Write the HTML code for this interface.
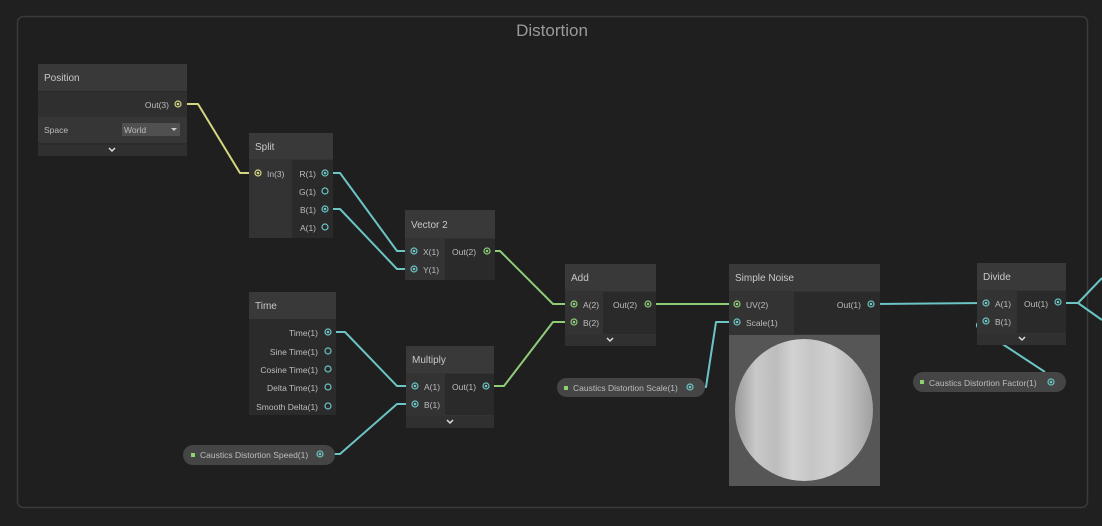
<!DOCTYPE html>
<html><head><meta charset="utf-8"><style>
html,body{margin:0;padding:0;background:#202020;}
svg{display:block;font-family:"Liberation Sans",sans-serif;}
.t{fill:#c8c8c8;font-size:10px;}
.s{fill:#bdbdbd;font-size:8.5px;}
</style></head><body>
<svg width="1102" height="526" viewBox="0 0 1102 526">
<rect width="1102" height="526" fill="#202020"/>
<rect x="17.5" y="16.5" width="1070" height="491" rx="6" fill="#1f1f1f" stroke="#3a3a3a" stroke-width="1.5"/>
<text x="552" y="36" text-anchor="middle" fill="#9a9a9a" font-size="17">Distortion</text>

<!-- wires -->
<g fill="none" stroke-width="2" stroke-linejoin="round">
<path d="M182 104 H198 L240 173 H258" stroke="#d6d680"/>
<path d="M325 173 H340 L397 251 H414" stroke="#6cc4c4"/>
<path d="M325 209 H340 L397 269 H414" stroke="#6cc4c4"/>
<path d="M487 251 H500 L553 304 H574" stroke="#8fcc78"/>
<path d="M487 386 H504 L553 322 H574" stroke="#8fcc78"/>
<path d="M648 304 H737" stroke="#8fcc78"/>
<path d="M328 332 H345 L397 386 H414" stroke="#6cc4c4"/>
<path d="M321 454 H340 L397 404 H414" stroke="#6cc4c4"/>
<path d="M691 387 H706 L716 322 H737" stroke="#6cc4c4"/>
<path d="M872 304 L985 303" stroke="#6cc4c4"/>
<path d="M1058 303 H1078 L1102 278" stroke="#6cc4c4"/>
<path d="M1078 303 L1102 320" stroke="#6cc4c4"/>
<path d="M1045 372 L978 328 Q974 322 984 321" stroke="#6cc4c4"/>
</g>

<!-- Position -->
<rect x="38" y="64" width="149" height="92" fill="#2b2b2b"/>
<rect x="38" y="64" width="149" height="27" fill="#393939"/>
<text class="t" x="44" y="81">Position</text>
<rect x="38" y="92" width="149" height="25" fill="#2f2f2f"/>
<text class="s" x="169" y="108" text-anchor="end">Out(3)</text>
<rect x="38" y="117" width="149" height="26" fill="#363636"/>
<text class="s" x="44" y="133">Space</text>
<rect x="122" y="123" width="58" height="13" fill="#505050"/>
<text class="s" x="124" y="133" fill="#ddd">World</text>
<path d="M171 128 l3 3 l3 -3z" fill="#ccc"/>
<rect x="38" y="145" width="149" height="11" fill="#303030"/>
<path d="M109 148 l3 3 l3 -3" stroke="#ddd" stroke-width="1.5" fill="none"/>

<!-- Split -->
<rect x="249" y="133" width="84" height="105" fill="#333"/>
<rect x="249" y="133" width="84" height="26" fill="#393939"/>
<text class="t" x="255" y="150">Split</text>
<rect x="292" y="160" width="41" height="78" fill="#2a2a2a"/>
<text class="s" x="267" y="177">In(3)</text>
<text class="s" x="316" y="177" text-anchor="end">R(1)</text>
<text class="s" x="316" y="195" text-anchor="end">G(1)</text>
<text class="s" x="316" y="213" text-anchor="end">B(1)</text>
<text class="s" x="316" y="231" text-anchor="end">A(1)</text>

<!-- Vector 2 -->
<rect x="405" y="210" width="90" height="70" fill="#333"/>
<rect x="405" y="210" width="90" height="28" fill="#393939"/>
<text class="t" x="411" y="228">Vector 2</text>
<rect x="445" y="239" width="50" height="41" fill="#2a2a2a"/>
<text class="s" x="423" y="255">X(1)</text>
<text class="s" x="423" y="273">Y(1)</text>
<text class="s" x="452" y="255">Out(2)</text>

<!-- Time -->
<rect x="249" y="292" width="87" height="123" fill="#2b2b2b"/>
<rect x="249" y="292" width="87" height="27" fill="#393939"/>
<text class="t" x="255" y="309">Time</text>
<text class="s" x="318" y="336" text-anchor="end">Time(1)</text>
<text class="s" x="318" y="355" text-anchor="end">Sine Time(1)</text>
<text class="s" x="318" y="373" text-anchor="end">Cosine Time(1)</text>
<text class="s" x="318" y="391" text-anchor="end">Delta Time(1)</text>
<text class="s" x="318" y="410" text-anchor="end">Smooth Delta(1)</text>

<!-- Multiply -->
<rect x="406" y="346" width="88" height="82" fill="#333"/>
<rect x="406" y="346" width="88" height="27" fill="#393939"/>
<text class="t" x="412" y="363">Multiply</text>
<rect x="445" y="374" width="49" height="41" fill="#2a2a2a"/>
<text class="s" x="424" y="390">A(1)</text>
<text class="s" x="424" y="408">B(1)</text>
<text class="s" x="452" y="390">Out(1)</text>
<rect x="406" y="416" width="88" height="12" fill="#303030"/>
<path d="M447 420 l3 3 l3 -3" stroke="#ddd" stroke-width="1.5" fill="none"/>

<!-- Add -->
<rect x="565" y="264" width="91" height="82" fill="#333"/>
<rect x="565" y="264" width="91" height="27" fill="#393939"/>
<text class="t" x="571" y="281">Add</text>
<rect x="603" y="292" width="53" height="42" fill="#2a2a2a"/>
<text class="s" x="583" y="308">A(2)</text>
<text class="s" x="583" y="326">B(2)</text>
<text class="s" x="613" y="308">Out(2)</text>
<rect x="565" y="335" width="91" height="11" fill="#303030"/>
<path d="M607 338 l3 3 l3 -3" stroke="#ddd" stroke-width="1.5" fill="none"/>

<!-- Simple Noise -->
<rect x="729" y="264" width="151" height="222" fill="#333"/>
<rect x="729" y="264" width="151" height="27" fill="#393939"/>
<text class="t" x="735" y="281">Simple Noise</text>
<rect x="794" y="292" width="86" height="42" fill="#2a2a2a"/>
<text class="s" x="746" y="308">UV(2)</text>
<text class="s" x="746" y="326">Scale(1)</text>
<text class="s" x="861" y="308" text-anchor="end">Out(1)</text>
<rect x="729" y="335" width="151" height="151" fill="#565656"/>
<defs>
<linearGradient id="g" x1="0" x2="1">
<stop offset="0" stop-color="#9a9a9a"/><stop offset="0.15" stop-color="#c8c8c8"/>
<stop offset="0.3" stop-color="#bdbdbd"/><stop offset="0.42" stop-color="#d2d2d2"/>
<stop offset="0.55" stop-color="#c6c6c6"/><stop offset="0.7" stop-color="#d0d0d0"/>
<stop offset="0.85" stop-color="#bcbcbc"/><stop offset="1" stop-color="#a0a0a0"/>
</linearGradient></defs>
<ellipse cx="804" cy="410" rx="69" ry="71" fill="url(#g)"/>

<!-- Divide -->
<rect x="977" y="263" width="89" height="82" fill="#333"/>
<rect x="977" y="263" width="89" height="27" fill="#393939"/>
<text class="t" x="983" y="280">Divide</text>
<rect x="1017" y="291" width="49" height="42" fill="#2a2a2a"/>
<text class="s" x="995" y="307">A(1)</text>
<text class="s" x="995" y="325">B(1)</text>
<text class="s" x="1024" y="307">Out(1)</text>
<rect x="977" y="334" width="89" height="11" fill="#303030"/>
<path d="M1019 337 l3 3 l3 -3" stroke="#ddd" stroke-width="1.5" fill="none"/>

<!-- Properties -->
<rect x="183" y="445" width="152" height="20" rx="10" fill="#454545"/>
<rect x="191" y="453" width="4" height="4" fill="#8fd070"/>
<text class="s" x="200" y="458">Caustics Distortion Speed(1)</text>
<rect x="557" y="378" width="148" height="19" rx="9.5" fill="#454545"/>
<rect x="564" y="386" width="4" height="4" fill="#8fd070"/>
<text class="s" x="573" y="391">Caustics Distortion Scale(1)</text>
<rect x="913" y="372" width="153" height="20" rx="10" fill="#454545"/>
<rect x="920" y="380" width="4" height="4" fill="#8fd070"/>
<text class="s" x="929" y="386">Caustics Distortion Factor(1)</text>

<!-- ports -->
<g stroke-width="1.2" fill="none">
<g stroke="#d6d680"><circle cx="178" cy="104" r="3"/><circle cx="258" cy="173" r="3"/></g>
<g fill="#d6d680"><circle cx="178" cy="104" r="1.3"/><circle cx="258" cy="173" r="1.3"/></g>
<g stroke="#6cc4c4">
<circle cx="325" cy="173" r="3"/><circle cx="325" cy="191" r="3"/><circle cx="325" cy="209" r="3"/><circle cx="325" cy="227" r="3"/>
<circle cx="414" cy="251" r="3"/><circle cx="414" cy="269" r="3"/>
<circle cx="328" cy="332" r="3"/><circle cx="328" cy="351" r="3"/><circle cx="328" cy="369" r="3"/><circle cx="328" cy="387" r="3"/><circle cx="328" cy="406" r="3"/>
<circle cx="415" cy="386" r="3"/><circle cx="415" cy="404" r="3"/><circle cx="486" cy="386" r="3"/>
<circle cx="737" cy="322" r="3"/><circle cx="871" cy="304" r="3"/>
<circle cx="986" cy="303" r="3"/><circle cx="986" cy="321" r="3"/><circle cx="1058" cy="302" r="3"/>
<circle cx="320" cy="454" r="3"/><circle cx="690" cy="387" r="3"/><circle cx="1051" cy="382" r="3"/>
</g>
<g fill="#6cc4c4">
<circle cx="325" cy="173" r="1.3"/><circle cx="325" cy="209" r="1.3"/>
<circle cx="414" cy="251" r="1.3"/><circle cx="414" cy="269" r="1.3"/><circle cx="328" cy="332" r="1.3"/>
<circle cx="415" cy="386" r="1.3"/><circle cx="415" cy="404" r="1.3"/><circle cx="486" cy="386" r="1.3"/>
<circle cx="737" cy="322" r="1.3"/><circle cx="871" cy="304" r="1.3"/>
<circle cx="986" cy="303" r="1.3"/><circle cx="986" cy="321" r="1.3"/><circle cx="1058" cy="302" r="1.3"/>
<circle cx="320" cy="454" r="1.3"/><circle cx="690" cy="387" r="1.3"/><circle cx="1051" cy="382" r="1.3"/>
</g>
<g stroke="#8fcc78"><circle cx="487" cy="251" r="3"/><circle cx="574" cy="304" r="3"/><circle cx="574" cy="322" r="3"/><circle cx="648" cy="304" r="3"/><circle cx="737" cy="304" r="3"/></g>
<g fill="#8fcc78"><circle cx="487" cy="251" r="1.3"/><circle cx="574" cy="304" r="1.3"/><circle cx="574" cy="322" r="1.3"/><circle cx="648" cy="304" r="1.3"/><circle cx="737" cy="304" r="1.3"/></g>
</g>
</svg>
</body></html>
